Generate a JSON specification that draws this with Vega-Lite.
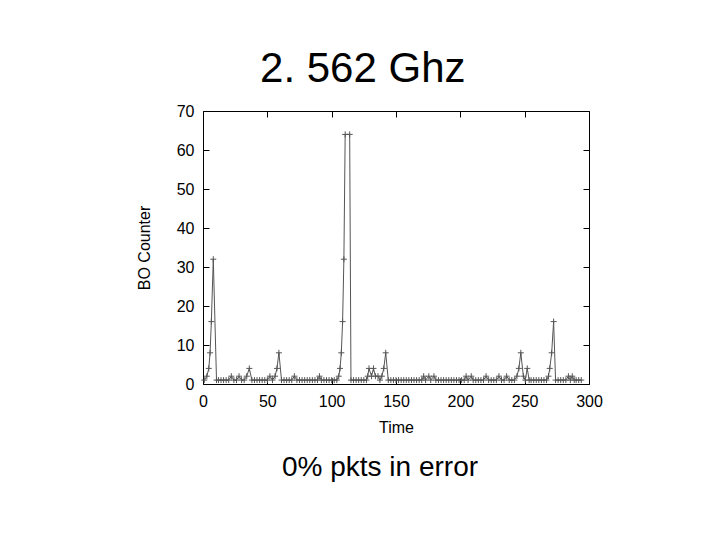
{
  "$schema": "https://vega.github.io/schema/vega-lite/v6.json",
  "padding": {"left": 135, "top": 47, "right": 10, "bottom": 10},
  "background": "white",
  "title": {"text": "2. 562 Ghz", "font": "Liberation Sans", "fontSize": 42, "fontWeight": "normal", "color": "black", "anchor": "middle", "offset": 12, "dx": -6.5},
  "config": {
    "view": {"stroke": "black", "strokeWidth": 1},
    "axis": {"grid": false, "domain": false, "tickColor": "black", "tickSize": -6, "labelPadding": 15, "labelFlush": false, "labelFont": "Liberation Sans", "labelFontSize": 16, "labelColor": "black", "titleFont": "Liberation Sans", "titleFontSize": 16, "titleFontWeight": "normal", "titleColor": "black"}
  },
  "datasets": {
    "bo": [
      {"t":1,"v":1},{"t":3,"v":2},{"t":4.5,"v":4},{"t":5.5,"v":8},{"t":6.5,"v":16},{"t":8,"v":32},{"t":10.5,"v":1},{"t":12,"v":1},{"t":14,"v":1},{"t":16,"v":1},{"t":18,"v":1},{"t":20,"v":1},{"t":22,"v":2},{"t":24,"v":1},{"t":26,"v":1},{"t":28,"v":2},{"t":30,"v":1},{"t":32,"v":1},{"t":34,"v":2},{"t":36,"v":4},{"t":38,"v":1},{"t":40,"v":1},{"t":42,"v":1},{"t":44,"v":1},{"t":46,"v":1},{"t":48,"v":1},{"t":50,"v":1},{"t":52,"v":2},{"t":54,"v":1},{"t":56,"v":2},{"t":57.5,"v":4},{"t":59,"v":8},{"t":61,"v":1},{"t":63,"v":1},{"t":65,"v":1},{"t":67,"v":1},{"t":69,"v":1},{"t":71,"v":2},{"t":73,"v":1},{"t":75,"v":1},{"t":77,"v":1},{"t":79,"v":1},{"t":81,"v":1},{"t":83,"v":1},{"t":85,"v":1},{"t":87,"v":1},{"t":89,"v":1},{"t":90.5,"v":2},{"t":92,"v":1},{"t":94,"v":1},{"t":96,"v":1},{"t":98,"v":1},{"t":100,"v":1},{"t":102,"v":1},{"t":104,"v":1},{"t":105.5,"v":2},{"t":106.5,"v":4},{"t":107.5,"v":8},{"t":108.5,"v":16},{"t":109.5,"v":32},{"t":110.5,"v":64},{"t":114,"v":64},{"t":115,"v":1},{"t":117,"v":1},{"t":119,"v":1},{"t":121,"v":1},{"t":123,"v":1},{"t":125,"v":1},{"t":127,"v":1},{"t":128,"v":2},{"t":129,"v":4},{"t":131,"v":2},{"t":132.5,"v":4},{"t":134,"v":2},{"t":136,"v":2},{"t":137.5,"v":1},{"t":139,"v":2},{"t":140.5,"v":4},{"t":142,"v":8},{"t":144,"v":1},{"t":146,"v":1},{"t":148,"v":1},{"t":150,"v":1},{"t":152,"v":1},{"t":154,"v":1},{"t":156,"v":1},{"t":158,"v":1},{"t":160,"v":1},{"t":162,"v":1},{"t":164,"v":1},{"t":166,"v":1},{"t":168,"v":1},{"t":170,"v":1},{"t":171.5,"v":2},{"t":173,"v":1},{"t":175.5,"v":2},{"t":177,"v":1},{"t":179.5,"v":2},{"t":181,"v":1},{"t":183,"v":1},{"t":185,"v":1},{"t":187,"v":1},{"t":189,"v":1},{"t":191,"v":1},{"t":193,"v":1},{"t":195,"v":1},{"t":197,"v":1},{"t":199,"v":1},{"t":201,"v":1},{"t":203,"v":1},{"t":204.5,"v":2},{"t":206,"v":1},{"t":208.5,"v":2},{"t":210,"v":1},{"t":212,"v":1},{"t":214,"v":1},{"t":216,"v":1},{"t":218,"v":1},{"t":220,"v":2},{"t":222,"v":1},{"t":224,"v":1},{"t":226,"v":1},{"t":228,"v":1},{"t":230,"v":2},{"t":232,"v":1},{"t":234,"v":1},{"t":236,"v":2},{"t":238,"v":1},{"t":240,"v":1},{"t":242,"v":1},{"t":244,"v":2},{"t":245.5,"v":4},{"t":247,"v":8},{"t":249,"v":2},{"t":250.5,"v":1},{"t":252,"v":4},{"t":253.5,"v":1},{"t":255,"v":1},{"t":257,"v":1},{"t":259,"v":1},{"t":261,"v":1},{"t":263,"v":1},{"t":265,"v":1},{"t":267,"v":1},{"t":268.5,"v":2},{"t":269.5,"v":4},{"t":271,"v":8},{"t":272.5,"v":16},{"t":274,"v":1},{"t":276,"v":1},{"t":278,"v":1},{"t":280,"v":1},{"t":282,"v":1},{"t":284,"v":2},{"t":285.5,"v":1},{"t":287,"v":2},{"t":288.5,"v":1},{"t":290,"v":1},{"t":292,"v":1},{"t":294,"v":1}
    ]
  },
  "vconcat": [
    {
      "width": 386,
      "height": 273,
      "title": {"text": "0% pkts in error", "orient": "bottom", "font": "Liberation Sans", "fontSize": 28, "fontWeight": "normal", "color": "black", "anchor": "middle", "offset": 19, "dx": -16},
      "data": {"name": "bo"},
      "layer": [
        {
          "mark": {"type": "line", "color": "#555555", "strokeWidth": 1, "point": {"shape": "M-1,0L1,0M0,-1L0,1", "filled": false, "stroke": "#555555", "strokeWidth": 1, "size": 36}},
          "encoding": {
            "x": {"field": "t", "type": "quantitative", "scale": {"domain": [0, 300], "nice": false}, "axis": {"orient": "bottom", "values": [0, 50, 100, 150, 200, 250, 300], "title": "Time", "titlePadding": 10}},
            "y": {"field": "v", "type": "quantitative", "scale": {"domain": [0, 70], "nice": false}, "axis": {"orient": "left", "values": [0, 10, 20, 30, 40, 50, 60, 70], "title": "BO Counter", "titlePadding": 24}}
          }
        },
        {
          "mark": {"type": "point", "opacity": 0},
          "encoding": {
            "x": {"field": "t", "type": "quantitative", "scale": {"domain": [0, 300], "nice": false}, "axis": {"orient": "top", "values": [0, 50, 100, 150, 200, 250, 300], "labels": false, "title": null}},
            "y": {"field": "v", "type": "quantitative", "scale": {"domain": [0, 70], "nice": false}, "axis": {"orient": "right", "values": [0, 10, 20, 30, 40, 50, 60, 70], "labels": false, "title": null}}
          }
        }
      ],
      "resolve": {"axis": {"x": "independent", "y": "independent"}}
    }
  ]
}
